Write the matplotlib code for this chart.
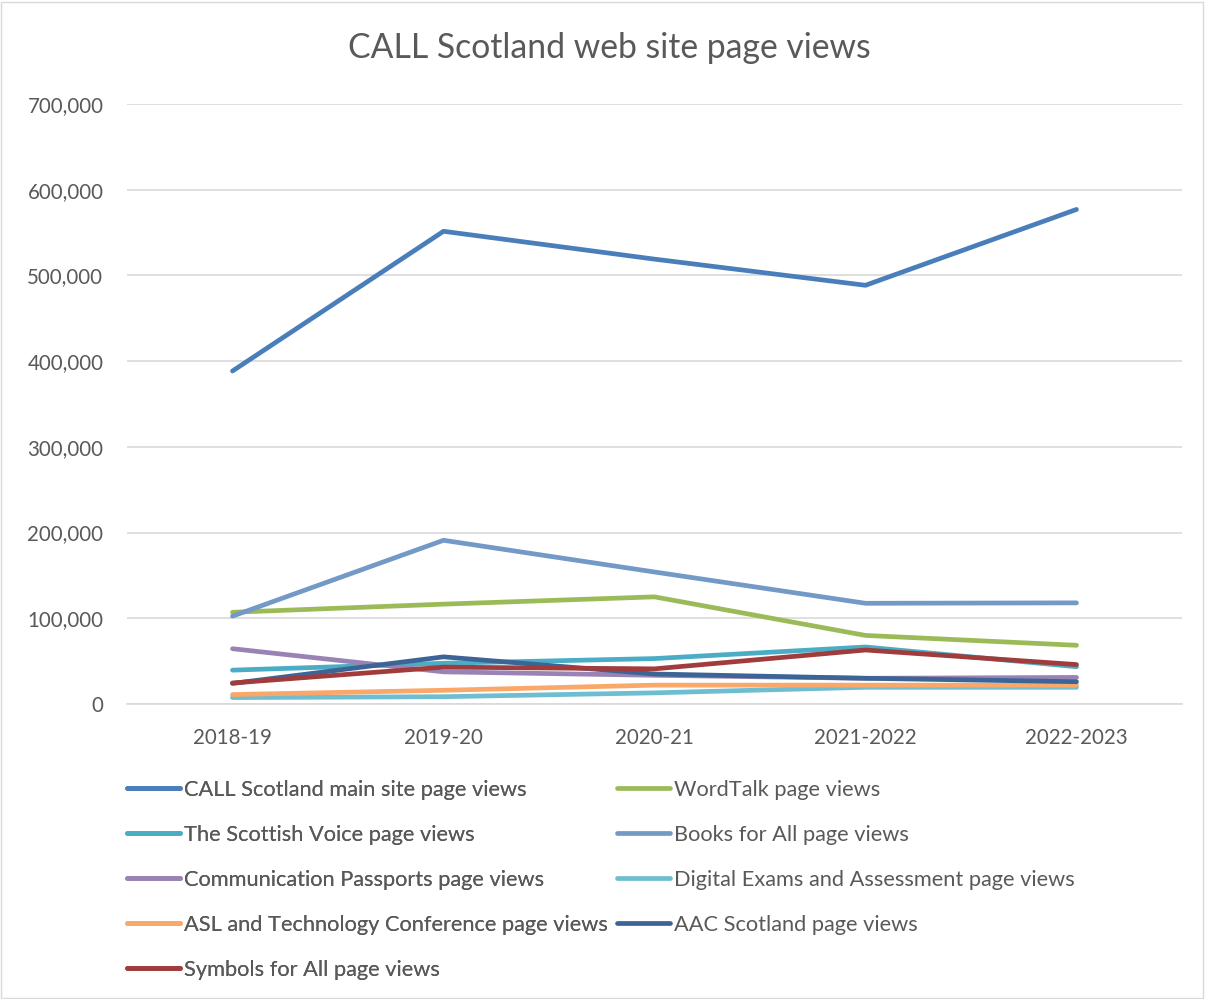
import matplotlib
matplotlib.use('Agg')
import matplotlib.pyplot as plt
from matplotlib.patches import Rectangle

years = ['2018-19', '2019-20', '2020-21', '2021-2022', '2022-2023']

main_site = [388500, 551500, 519000, 488500, 577000]
wordtalk = [107000, 116500, 125000, 80000, 68500]
scottish_voice = [39500, 47500, 53000, 66500, 43500]
books_for_all = [102500, 191000, 154000, 117500, 118000]
comm_passports = [64500, 37500, 33500, 30000, 31000]
digital_exams = [7500, 8500, 13000, 19500, 19500]
asl_conf = [11000, 16000, 22000, 22000, 22000]
aac_scotland = [24000, 55000, 35000, 30000, 26000]
symbols_for_all = [24500, 43000, 41000, 63000, 46000]

series = [
    ('CALL Scotland main site page views', main_site, '#4a7ebb'),
    ('WordTalk page views', wordtalk, '#9bbb59'),
    ('The Scottish Voice page views', scottish_voice, '#4bacc6'),
    ('Books for All page views', books_for_all, '#7399c6'),
    ('Communication Passports page views', comm_passports, '#9983b5'),
    ('Digital Exams and Assessment page views', digital_exams, '#6fbdd1'),
    ('ASL and Technology Conference page views', asl_conf, '#f9a86a'),
    ('AAC Scotland page views', aac_scotland, '#3c6596'),
    ('Symbols for All page views', symbols_for_all, '#a03c3c'),
]

plt.rcParams['font.family'] = ['Lato', 'DejaVu Sans']
txt = '#595959'

fig = plt.figure(figsize=(12.05, 9.99), dpi=100)
ax = fig.add_axes([127/1205, 295/999, 1055/1205, 600/999])

x = list(range(len(years)))
lines = []
for name, vals, col in series:
    ln, = ax.plot(x, vals, color=col, lw=3.4, solid_capstyle='round', label=name)
    lines.append(ln)

ax.set_xlim(-0.5, 4.5)
ax.set_ylim(0, 700000)
ax.set_yticks(range(0, 700001, 100000))
ax.set_yticklabels(['0' if v == 0 else f'{v:,}' for v in range(0, 700001, 100000)])
ax.set_xticks(x)
ax.set_xticklabels(years)
ax.tick_params(length=0, labelsize=14.8, colors=txt)
ax.tick_params(axis='y', pad=17)
ax.tick_params(axis='x', pad=17)
ax.grid(axis='y', color='#d9d9d9', lw=1.2)
ax.set_axisbelow(True)
for s in ['top', 'right', 'left']:
    ax.spines[s].set_visible(False)
ax.spines['bottom'].set_color('#d9d9d9')
ax.spines['bottom'].set_linewidth(1.2)

fig.text(609/1205, 1 - 48/999, 'CALL Scotland web site page views', ha='center', va='center',
         fontsize=24.3, color=txt)

# legend filled row by row, two columns -> two legends side by side
fs = 15.7
kw = dict(loc='upper left', frameon=False, fontsize=fs, labelcolor=txt, handlelength=2.43,
          handletextpad=0.18, labelspacing=1.145, borderaxespad=0, borderpad=0)
leg1 = fig.legend(lines[0::2], [s[0] for s in series[0::2]],
                  bbox_to_anchor=(127/1205, 1 - 780/999), **kw)
leg2 = fig.legend(lines[1::2], [s[0] for s in series[1::2]],
                  bbox_to_anchor=(617/1205, 1 - 780/999), **kw)
fig.add_artist(leg1)

fig.add_artist(Rectangle((0.001, 0.001), 0.997, 0.997, transform=fig.transFigure,
                         fill=False, edgecolor='#d9d9d9', lw=1))

fig.savefig('out.png', dpi=100)
